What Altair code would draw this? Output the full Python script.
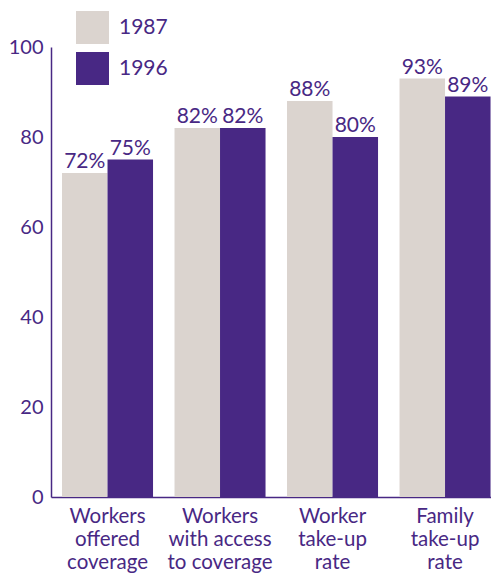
import altair as alt
import pandas as pd

categories = ["Workers|offered|coverage", "Workers|with access|to coverage", "Worker|take-up|rate", "Family|take-up|rate"]
years = ["1987", "1996"]
values_1987 = [72, 82, 88, 93]
values_1996 = [75, 82, 80, 89]

rows = []
for c, a, b in zip(categories, values_1987, values_1996):
    rows.append({"cat": c, "year": "1987", "value": a, "label": f"{a}%"})
    rows.append({"cat": c, "year": "1996", "value": b, "label": f"{b}%"})
df = pd.DataFrame(rows)

PURPLE = "#482884"
GRAY = "#dbd4cf"
FONT = "Lato"

x = alt.X("cat:N", sort=categories, title=None,
          scale=alt.Scale(paddingInner=0.191, paddingOuter=0.051, align=0.96),
          axis=alt.Axis(labelExpr="split(datum.label, '|')", labelAngle=0,
                        labelFont=FONT, labelFontSize=20.5, labelColor=PURPLE,
                        labelLineHeight=23, labelPadding=9, ticks=False,
                        domainColor=PURPLE, domainWidth=1.5, labelBaseline="top"))
xo = alt.XOffset("year:N", sort=years, scale=alt.Scale(paddingInner=0, paddingOuter=0))
y = alt.Y("value:Q", title=None,
          scale=alt.Scale(domain=[0, 100], nice=False),
          axis=alt.Axis(values=[0, 20, 40, 60, 80, 100], grid=False, ticks=False,
                        labelFont=FONT, labelFontSize=20, labelColor=PURPLE,
                        labelPadding=8, domainColor=PURPLE, domainWidth=1.5))

color = alt.Color("year:N", sort=years,
                  scale=alt.Scale(domain=years, range=[GRAY, PURPLE]),
                  legend=alt.Legend(title=None, orient="none", legendX=25, legendY=-36,
                                    symbolType="square", symbolSize=1089,
                                    symbolStrokeWidth=0, symbolOpacity=1,
                                    labelFont=FONT, labelFontSize=21, labelColor=PURPLE,
                                    labelOffset=10, rowPadding=8))

bars = alt.Chart(df).mark_bar(opacity=1).encode(x=x, xOffset=xo, y=y, color=color)
text = alt.Chart(df).mark_text(baseline="bottom", dy=-1, font=FONT, fontSize=21,
                               color=PURPLE).encode(x=x, xOffset=xo, y=y, text="label:N")

chart = (bars + text).properties(width=440, height=450,
                                 padding={"left": 0, "top": 3, "right": 0, "bottom": 0}
                                 ).configure_view(stroke=None).configure_axis(labelFontWeight="normal")

chart.save("out.html", embed_options={"renderer": "svg", "actions": False})
